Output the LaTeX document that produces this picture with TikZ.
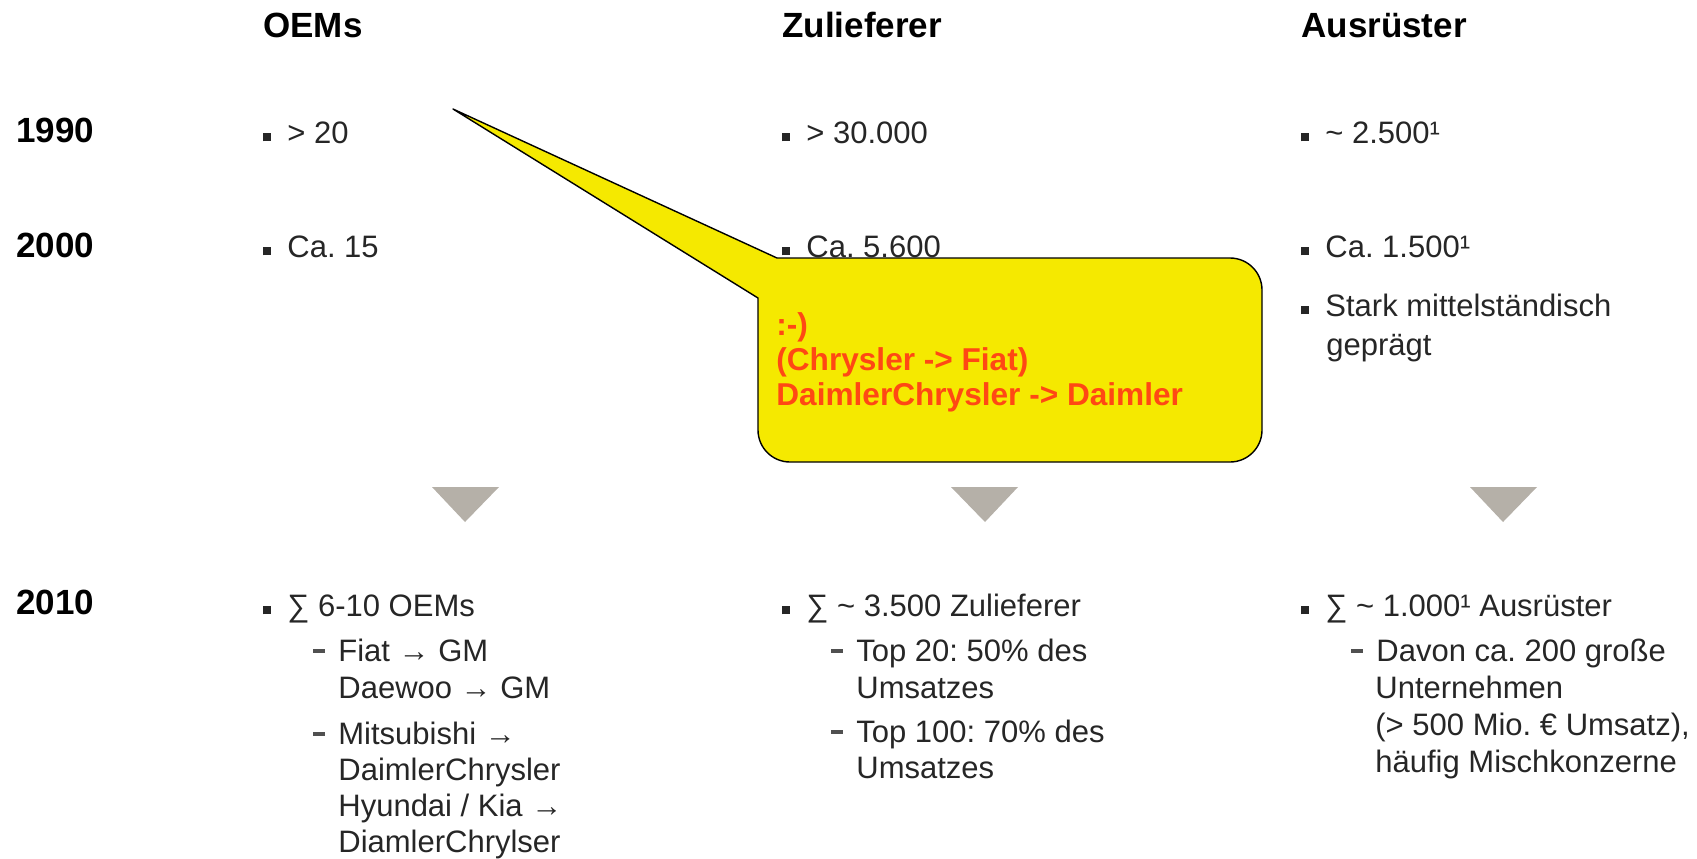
\documentclass[tikz,border=0pt]{standalone}
\usepackage{fontspec}
\setmainfont{Liberation Sans}
\frenchspacing
\definecolor{notered}{RGB}{255,72,20}
\definecolor{callyellow}{RGB}{245,233,0}
\definecolor{trigray}{RGB}{181,176,168}
\definecolor{dashgray}{RGB}{80,80,80}
\newcommand\mybul{\rule[0.8pt]{4pt}{4pt}\hspace{8pt}}
\newcommand\mydash{\textcolor{dashgray}{\rule[4.2pt]{6pt}{1.7pt}}\hspace{6.5pt}}
\tikzset{
  hdr/.style={font=\bfseries\fontsize{17.5}{21}\selectfont, anchor=base west, inner sep=0pt},
  body/.style={font=\fontsize{15.5}{18.5}\selectfont, anchor=base west, inner sep=0pt, text=black!85},
  note/.style={font=\bfseries\fontsize{15.8}{18}\selectfont, anchor=base west, inner sep=0pt, text=notered},
  arrowtri/.style={fill=trigray, draw=none},
  callout/.style={fill=callyellow, draw=black, line width=0.7pt, line join=round},
}
\begin{document}
\begin{tikzpicture}[x=0.5pt,y=-0.5pt]
\useasboundingbox (0,0) rectangle (1697,858);
% headers
\node[hdr] (hOEM) at (263,37) {OEMs};
\node[hdr] (hZul) at (782,37) {Zulieferer};
\node[hdr] (hAus) at (1301,37) {Ausrüster};
% years
\node[hdr] (y1990) at (16,142) {1990};
\node[hdr] (y2000) at (16,257) {2000};
\node[hdr] (y2010) at (16,614) {2010};
% OEM column
\node[body] (o1) at (263,143) {\mybul> 20};
\node[body] (o2) at (263,257) {\mybul Ca. 15};
\node[body] (o3) at (263,616) {\mybul∑ 6-10 OEMs};
\node[body] (o4) at (313,661) {\mydash Fiat → GM};
\node[body] (o5) at (338,698) {Daewoo → GM};
\node[body] (o6) at (313,744) {\mydash Mitsubishi →};
\node[body] (o7) at (338,780) {DaimlerChrysler};
\node[body] (o8) at (338,816) {Hyundai / Kia →};
\node[body] (o9) at (338,852) {DiamlerChrylser};
% Zulieferer column
\node[body] (z1) at (782,143) {\mybul> 30.000};
\node[body] (z2) at (782,257) {\mybul Ca. 5.600};
\node[body] (z3) at (782,616) {\mybul∑ \textasciitilde{} 3.500 Zulieferer};
\node[body] (z4) at (831,661) {\mydash Top 20: 50\% des};
\node[body] (z5) at (856,698) {Umsatzes};
\node[body] (z6) at (831,742) {\mydash Top 100: 70\% des};
\node[body] (z7) at (856,778) {Umsatzes};
% Ausruester column
\node[body] (a1) at (1301,143) {\mybul\textasciitilde{} 2.500¹};
\node[body] (a2) at (1301,257) {\mybul Ca. 1.500¹};
\node[body] (a3) at (1301,316) {\mybul Stark mittelständisch};
\node[body] (a4) at (1326,355) {geprägt};
\node[body] (a5) at (1301,616) {\mybul∑ \textasciitilde{} 1.000¹ Ausrüster};
\node[body] (a6) at (1351,661) {\mydash Davon ca. 200 große};
\node[body] (a7) at (1375,698) {Unternehmen};
\node[body] (a8) at (1375,735) {(> 500 Mio. € Umsatz),};
\node[body] (a9) at (1375,772) {häufig Mischkonzerne};
% down triangles
\fill[arrowtri] (432,487) -- (499,487) -- (465,522) -- cycle;
\fill[arrowtri] (951,487) -- (1018,487) -- (985,522) -- cycle;
\fill[arrowtri] (1470,487) -- (1537,487) -- (1503,522) -- cycle;
% callout
\coordinate (tip) at (453,109);
\draw[callout] (tip) -- (777,258) [rounded corners=16pt] -- (1262,258) -- (1262,462) -- (758,462) [sharp corners] -- (758,298) -- cycle;
\node[note] (n1) at (776,335) {:-)};
\node[note] (n2) at (776,370) {(Chrysler -> Fiat)};
\node[note] (n3) at (776,405) {DaimlerChrysler -> Daimler};
\end{tikzpicture}
\end{document}
